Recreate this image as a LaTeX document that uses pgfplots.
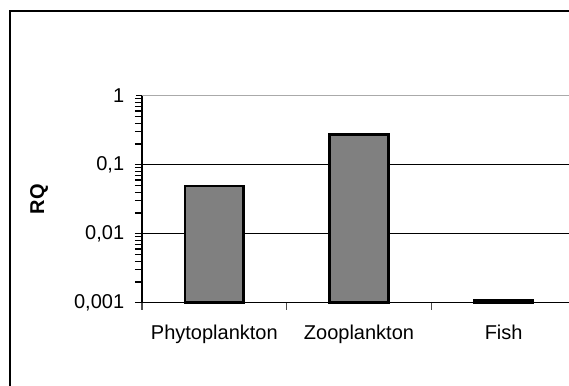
\documentclass[border=0pt]{standalone}
\usepackage{pgfplots}
\pgfplotsset{compat=1.18}
\usepackage{fontspec}
\setmainfont{Liberation Sans}
\definecolor{barfill}{RGB}{128,128,128}
\definecolor{topgrid}{RGB}{170,170,170}
\begin{document}
\fontsize{20}{24}\selectfont
\begin{tikzpicture}[x=1pt,y=1pt]
\path[use as bounding box] (0,0) rectangle (569,385);
\begin{scope}
\clip (0,0) rectangle (569,385);
\draw[line width=1.6pt] (10,-20) -- (10,374) -- (620,374);
\begin{axis}[
  at={(142pt,82.3pt)}, anchor=south west,
  scale only axis, width=434pt, height=207pt,
  xmin=-0.5, xmax=2.5,
  ymode=log, ymin=0.001, ymax=1, log origin y=infty,
  axis x line*=bottom, axis y line*=left,
  axis line style={line width=1.3pt, black},
  ybar, bar width=0.405,
  xtick={0,1,2},
  xticklabels={Phytoplankton,Zooplankton,Fish},
  minor xtick={-0.5,0.5,1.5,2.5},
  major x tick style={draw=none},
  minor tick length=7pt,
  minor x tick style={line width=1.3pt, gray!60!black},
  ytick={0.001,0.01,0.1,1},
  yticklabels={{0,001},{0,01},{0,1},{1}},
  extra y ticks={0.01,0.1},
  extra y tick labels={},
  extra y tick style={grid=major, major grid style={black, line width=1pt}, tick style={draw=none}},
  major tick length=6pt,
  tick align=outside,
  y tick style={line width=1.2pt, black},
  ymajorgrids, major grid style={topgrid, line width=1pt},
  ylabel={\bfseries RQ},
  ylabel style={at={(axis description cs:-0.237,0.5)}, anchor=center},
  every tick label/.append style={font=\fontsize{20}{24}\selectfont},
  yticklabel style={xshift=-5pt},
  xticklabel style={yshift=-9pt},
  /pgf/number format/assume math mode=true,
  clip=false,
]
\addplot[fill=barfill, draw=black, line width=2.6pt] coordinates {(0,0.049) (1,0.272) (2,0.0011)};
\end{axis}
\end{scope}
\end{tikzpicture}
\end{document}
